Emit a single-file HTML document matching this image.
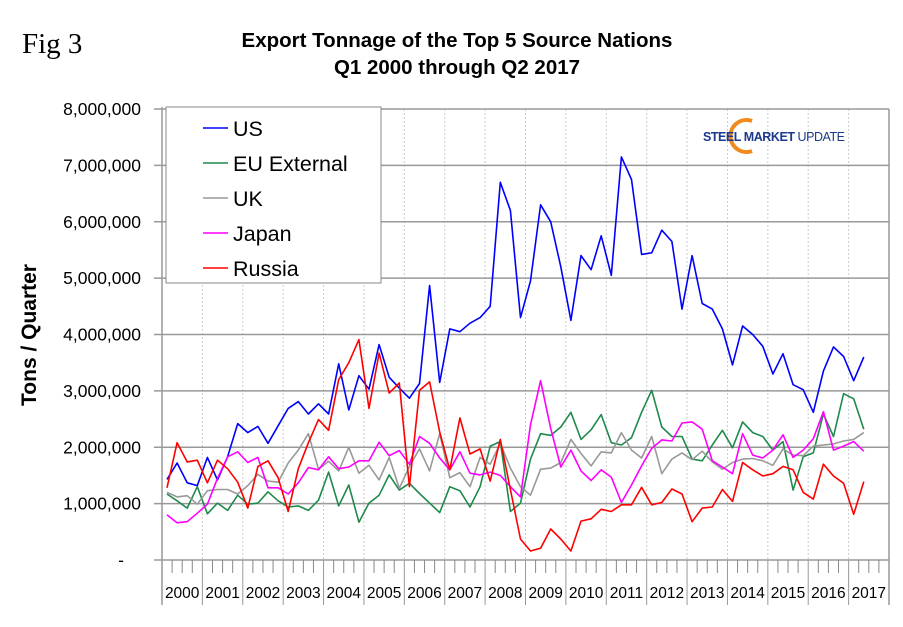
<!DOCTYPE html>
<html><head><meta charset="utf-8"><style>
body{margin:0;background:#fff;}
svg text{font-family:"Liberation Sans",Arial,sans-serif;}
</style></head><body>
<svg id="chart" width="903" height="622" xmlns="http://www.w3.org/2000/svg">
<text x="22" y="53" font-size="29" style="font-family:'Liberation Serif',serif">Fig 3</text>
<text x="457" y="47" font-size="20.5" font-weight="bold" text-anchor="middle">Export Tonnage of the Top 5 Source Nations</text>
<text x="457" y="74" font-size="20.5" font-weight="bold" text-anchor="middle">Q1 2000 through Q2 2017</text>
<text transform="translate(36,335) rotate(-90)" font-size="21" font-weight="bold" text-anchor="middle">Tons / Quarter</text>
<g id="grid"></g><g id="axes"></g><g id="series"></g>
<g>
<path d="M752,121 A16,16 0 1 0 752,151" fill="none" stroke="#f08a1c" stroke-width="4"/>
<text x="703" y="141" font-size="12.5" font-weight="bold" fill="#1b3a8c" textLength="142">STEEL MARKET <tspan font-weight="normal">UPDATE</tspan></text>
</g>
<g id="legend">
<rect x="166" y="107" width="215" height="176" fill="#fff" stroke="#888" stroke-width="1"/>
</g>
</svg>
<script>
const years=["2000","2001","2002","2003","2004","2005","2006","2007","2008","2009","2010","2011","2012","2013","2014","2015","2016","2017"];
const yTicks=[0,1000000,2000000,3000000,4000000,5000000,6000000,7000000,8000000];
const yTickLabels=["-","1,000,000","2,000,000","3,000,000","4,000,000","5,000,000","6,000,000","7,000,000","8,000,000"];
const seriesNames=["US","EU External","UK","Japan","Russia"];
const seriesColors=["#0000ff","#1f8a4c","#999999","#ff00ff","#ff0000"];
const us=[1.43,1.72,1.37,1.32,1.82,1.42,1.83,2.42,2.26,2.37,2.07,2.38,2.69,2.81,2.59,2.77,2.59,3.48,2.66,3.27,3.03,3.82,3.24,3.05,2.87,3.13,4.87,3.15,4.1,4.05,4.2,4.3,4.5,6.7,6.2,4.3,4.95,6.3,6.0,5.2,4.25,5.4,5.15,5.75,5.05,7.15,6.75,5.42,5.45,5.85,5.65,4.45,5.4,4.55,4.45,4.1,3.46,4.15,4.0,3.79,3.3,3.66,3.11,3.02,2.62,3.35,3.78,3.61,3.18,3.6];
const eu=[1.17,1.05,0.92,1.30,0.82,1.01,0.88,1.15,0.99,1.01,1.21,1.05,0.94,0.96,0.88,1.06,1.56,0.96,1.33,0.67,1.01,1.15,1.51,1.24,1.36,1.18,1.01,0.84,1.30,1.23,0.94,1.30,2.02,2.10,0.86,1.01,1.79,2.24,2.21,2.36,2.62,2.14,2.31,2.58,2.08,2.04,2.17,2.62,3.01,2.36,2.19,2.19,1.79,1.76,2.04,2.30,1.99,2.45,2.26,2.19,1.95,2.10,1.24,1.83,1.90,2.59,2.19,2.95,2.86,2.32];
const uk=[1.20,1.12,1.14,0.99,1.23,1.25,1.25,1.17,1.32,1.52,1.40,1.38,1.72,1.95,2.24,1.61,1.75,1.58,2.00,1.54,1.68,1.42,1.82,1.27,1.66,1.97,1.58,2.24,1.46,1.55,1.30,1.82,1.70,2.07,1.63,1.30,1.15,1.61,1.63,1.73,2.14,1.89,1.67,1.92,1.90,2.26,1.95,1.81,2.19,1.53,1.79,1.90,1.78,1.93,1.74,1.61,1.73,1.79,1.80,1.76,1.68,1.97,1.86,1.85,2.02,2.04,2.06,2.11,2.14,2.26];
const japan=[0.80,0.66,0.68,0.83,0.99,1.45,1.83,1.92,1.73,1.82,1.28,1.28,1.17,1.37,1.64,1.60,1.83,1.62,1.65,1.76,1.76,2.09,1.85,1.94,1.70,2.19,2.07,1.81,1.60,1.92,1.54,1.51,1.56,1.50,1.30,1.12,2.40,3.18,2.33,1.65,1.95,1.58,1.41,1.60,1.47,1.02,1.33,1.67,1.98,2.13,2.11,2.43,2.45,2.32,1.76,1.65,1.53,2.24,1.86,1.81,1.95,2.22,1.82,1.95,2.15,2.63,1.95,2.02,2.10,1.93];
const russia=[1.28,2.08,1.74,1.77,1.37,1.77,1.62,1.38,0.92,1.66,1.76,1.46,0.86,1.62,2.08,2.49,2.30,3.20,3.50,3.91,2.69,3.67,2.96,3.14,1.30,3.01,3.16,2.27,1.60,2.52,1.88,1.97,1.40,2.14,1.25,0.37,0.16,0.21,0.55,0.37,0.16,0.69,0.73,0.90,0.86,0.98,0.98,1.29,0.98,1.02,1.26,1.17,0.68,0.92,0.94,1.25,1.04,1.73,1.60,1.49,1.53,1.66,1.60,1.20,1.08,1.70,1.49,1.36,0.81,1.39];
const seriesData=[us,eu,uk,japan,russia];

const NS="http://www.w3.org/2000/svg";
const X0=162,X1=889,Y0=560,Y1=109;
const qW=(X1-X0)/(years.length*4);
function xq(i){return X0+qW*(i+0.5);}
function yv(v){return Y0-(v/8000000)*(Y0-Y1);}
function mk(tag,attrs,parent){const e=document.createElementNS(NS,tag);for(const k in attrs)e.setAttribute(k,attrs[k]);parent.appendChild(e);return e;}
const grid=document.getElementById('grid'),axes=document.getElementById('axes'),ser=document.getElementById('series'),leg=document.getElementById('legend');
years.forEach((y,k)=>{if(k===0)return;const x=X0+k*4*qW;
 const l=mk('line',{x1:x,x2:x,y1:Y1,y2:Y0,stroke:'#ccc','stroke-dasharray':'2,2'},grid);
 
 });
yTicks.forEach((t,k)=>{const y=yv(t);
 const l=mk('line',{x1:X0-8,x2:X1,y1:y,y2:y,stroke:'#999','stroke-width':1.5},grid);
 
 
 const tx=mk('text',{x:t===0?124:141,y:y+6,'font-size':17.5,'text-anchor':'end'},axes);tx.textContent=yTickLabels[k];
 
 });
mk('line',{x1:X0,x2:X0,y1:Y1-2,y2:605,stroke:'#999','stroke-width':1.5},axes);
mk('line',{x1:X1,x2:X1,y1:Y1,y2:605,stroke:'#999','stroke-width':1.5},axes);
for(let i=0;i<years.length*4;i++){const x=X0+qW*i;
 if(i%4===0){mk('line',{x1:x,x2:x,y1:Y0,y2:605,stroke:'#999','stroke-width':1},axes);}
 else{mk('line',{x1:x,x2:x,y1:Y0,y2:573,stroke:'#888','stroke-width':1},axes);}}
years.forEach((y,k)=>{const t=mk('text',{x:X0+(k*4+2)*qW,y:598,'font-size':15.5,'text-anchor':'middle'},axes);t.textContent=y;
 
 });
seriesData.forEach((d,s)=>{const pts=d.map((v,i)=>xq(i).toFixed(1)+','+yv(v*1000000).toFixed(1)).join(' ');
 const p=mk('polyline',{points:pts,fill:'none',stroke:seriesColors[s],'stroke-width':1.6,'stroke-linejoin':'round'},ser);
 
 
 const y=128+s*35;
 mk('line',{x1:203,x2:228,y1:y,y2:y,stroke:seriesColors[s],'stroke-width':1.6},leg);
 const t=mk('text',{x:233,y:y+8,'font-size':21.5},leg);t.textContent=seriesNames[s];
 
 });
</script>
</body></html>
